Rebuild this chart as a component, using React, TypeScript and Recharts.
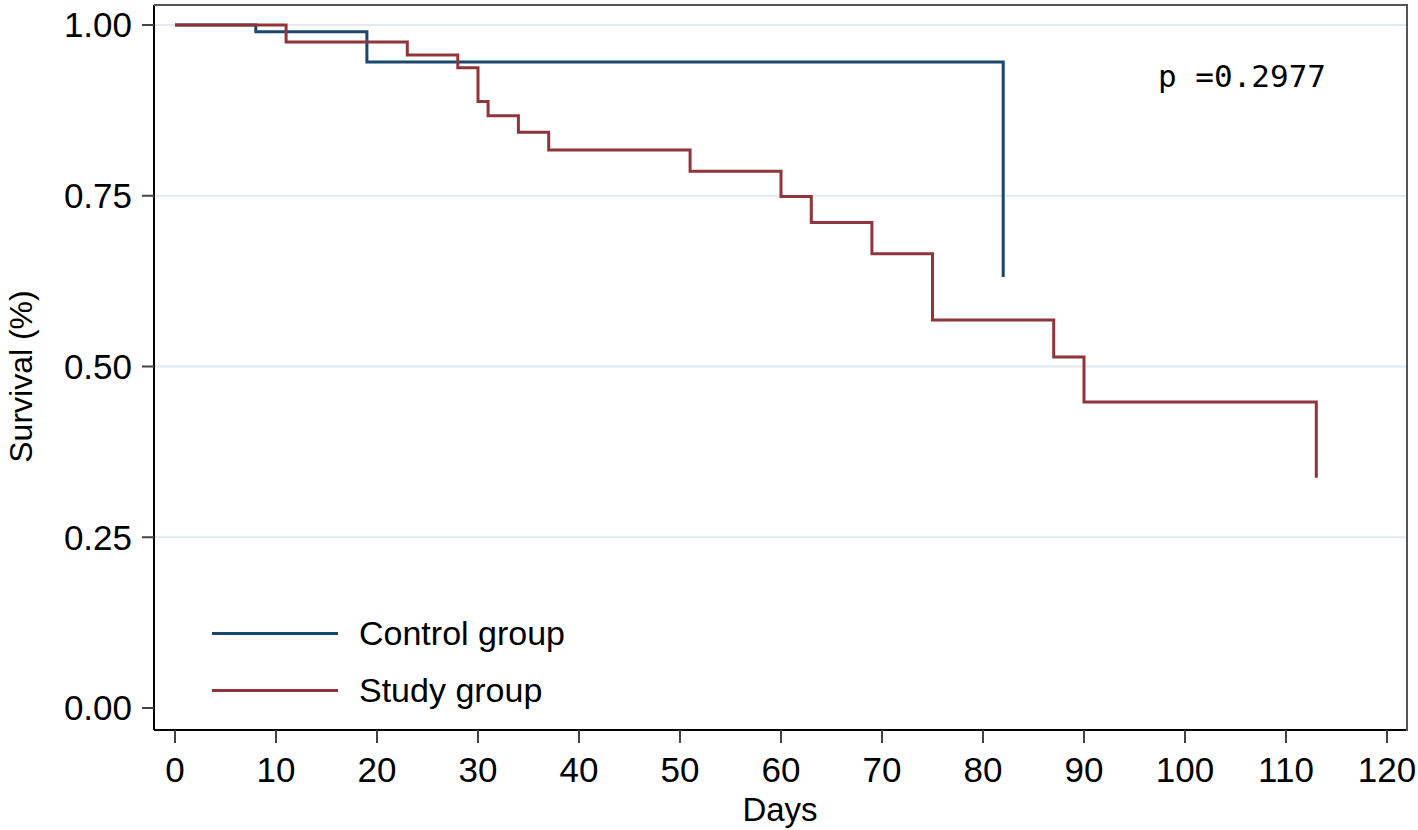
import React from 'react';
import {
  LineChart,
  Line,
  XAxis,
  YAxis,
  ReferenceLine,
  Legend,
} from 'recharts';

// Kaplan-Meier steps
const controlDays = [0, 8, 19, 82];
const controlSurvival = [1.0, 0.99, 0.946, 0.631];

const studyDays = [0, 11, 23, 28, 30, 31, 34, 37, 51, 60, 63, 69, 75, 87, 90, 113];
const studySurvival = [
  1.0, 0.975, 0.956, 0.9375, 0.888, 0.867, 0.843, 0.817, 0.786, 0.749, 0.711, 0.665, 0.568, 0.514, 0.448,
  0.337,
];

const xTicks = [0, 10, 20, 30, 40, 50, 60, 70, 80, 90, 100, 110, 120];
const yTicks = [0, 0.25, 0.5, 0.75, 1];
const gridValues = [0.25, 0.5, 0.75, 1];
const pValueText = 'p =0.2977';

const controlData = controlDays.map((day, i) => ({ day, surv: controlSurvival[i] }));
const studyData = studyDays.map((day, i) => ({ day, surv: studySurvival[i] }));

const FONT = '"Liberation Sans", Arial, sans-serif';
const BLUE = '#1a476f';
const RED = '#90353b';

// plot box (frame) inside the 1418x830 chart
const PLOT_LEFT = 154;
const PLOT_TOP = 5;
const PLOT_RIGHT_MARGIN = 12;
const X_AXIS_HEIGHT = 100;

const renderLegend = (props: any) => {
  const { payload } = props;
  return (
    <div style={{ display: 'flex', flexDirection: 'column' }}>
      {(payload || []).map((item: any) => (
        <div key={item.value} style={{ display: 'flex', alignItems: 'center', height: 57 }}>
          <div style={{ width: 126, height: 3, background: item.color }} />
          <span style={{ marginLeft: 21, fontSize: 34, fontFamily: FONT, color: '#000', lineHeight: '57px' }}>
            {item.value}
          </span>
        </div>
      ))}
    </div>
  );
};

const App: React.FC = () => {
  return (
    <div style={{ position: 'absolute', left: 0, top: 0, width: 1418, height: 830, background: '#fff' }}>
      <LineChart
        width={1418}
        height={830}
        margin={{ top: PLOT_TOP, right: PLOT_RIGHT_MARGIN, bottom: 0, left: 0 }}
      >
        <XAxis
          dataKey="day"
          type="number"
          domain={[0, 120]}
          ticks={xTicks}
          padding={{ left: 21, right: 19 }}
          height={X_AXIS_HEIGHT}
          axisLine={{ stroke: '#000', strokeWidth: 2 }}
          tickLine={{ stroke: '#444', strokeWidth: 2 }}
          tickSize={13}
          tickMargin={14}
          tick={{ fontSize: 35, fontFamily: FONT, fill: '#000' }}
          label={{
            value: 'Days',
            position: 'insideBottom',
            offset: 9,
            style: { fontSize: 33, fontFamily: FONT, fill: '#000' },
          }}
        />
        <YAxis
          type="number"
          domain={[0, 1]}
          ticks={yTicks}
          padding={{ top: 20, bottom: 22 }}
          width={PLOT_LEFT}
          tickFormatter={(v: number) => v.toFixed(2)}
          axisLine={{ stroke: '#000', strokeWidth: 2 }}
          tickLine={{ stroke: '#444', strokeWidth: 2 }}
          tickSize={12}
          tickMargin={10}
          tick={{ fontSize: 35, fontFamily: FONT, fill: '#000' }}
          label={{
            value: 'Survival (%)',
            content: (p: any) => {
              const vb = p.viewBox || { x: 0, y: 0, height: 0 };
              const cx = vb.x + 21;
              const cy = vb.y + vb.height / 2 + 9;
              return (
                <text
                  x={cx}
                  y={cy}
                  transform={`rotate(-90 ${cx} ${cy})`}
                  textAnchor="middle"
                  dominantBaseline="central"
                  style={{ fontSize: 32, fontFamily: FONT, fill: '#000' }}
                >
                  Survival (%)
                </text>
              );
            },
          }}
        />
        {gridValues.map((v) => (
          <ReferenceLine key={v} y={v} stroke="#e3eaed" strokeWidth={2} />
        ))}
        <Legend
          layout="horizontal"
          verticalAlign="middle"
          align="center"
          content={renderLegend}
          wrapperStyle={{ left: 212, top: 605, width: 'auto', height: 'auto' }}
        />
        <Line
          data={controlData}
          dataKey="surv"
          name="Control group"
          type="stepAfter"
          stroke={BLUE}
          strokeWidth={3}
          dot={false}
          activeDot={false}
          isAnimationActive={false}
        />
        <Line
          data={studyData}
          dataKey="surv"
          name="Study group"
          type="stepAfter"
          stroke={RED}
          strokeWidth={3}
          dot={false}
          activeDot={false}
          isAnimationActive={false}
        />
      </LineChart>
      {/* top and right edges of the plot frame */}
      <div
        style={{
          position: 'absolute',
          left: PLOT_LEFT,
          top: PLOT_TOP - 1,
          width: 1418 - PLOT_LEFT - PLOT_RIGHT_MARGIN,
          height: 830 - X_AXIS_HEIGHT - PLOT_TOP,
          borderTop: '2px solid #555',
          borderRight: '2px solid #555',
          pointerEvents: 'none',
        }}
      />
      <div
        style={{
          position: 'absolute',
          left: 1158,
          top: 61,
          fontFamily: '"DejaVu Sans Mono", monospace',
          fontSize: 31,
          lineHeight: 1,
          color: '#000',
          whiteSpace: 'pre',
        }}
      >
        {pValueText}
      </div>
    </div>
  );
};

export default App;
